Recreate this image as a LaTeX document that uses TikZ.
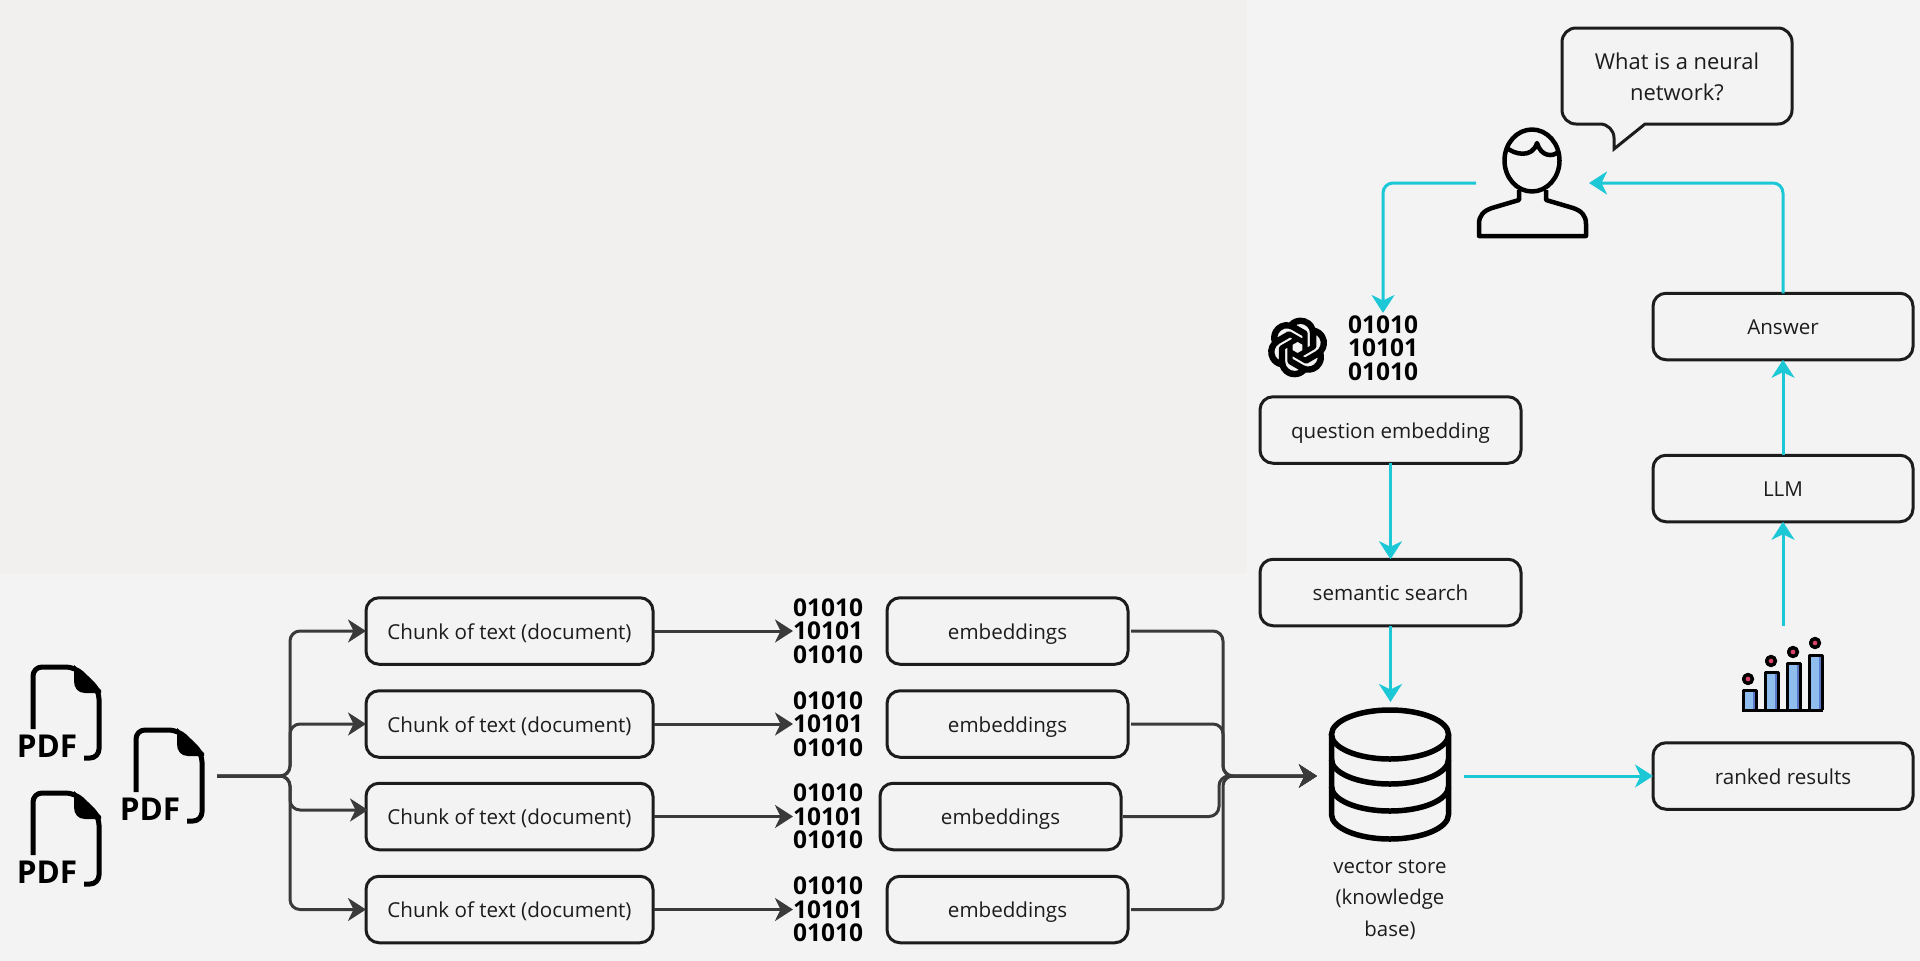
\documentclass[tikz,border=0pt]{standalone}
\usepackage{fontspec}
\setmainfont{Open Sans}
\usetikzlibrary{arrows.meta,calc,svg.path}
\definecolor{pagebg}{HTML}{F3F3F3}
\definecolor{patchbg}{HTML}{F1F0EE}
\definecolor{inkline}{HTML}{1C1C1C}
\definecolor{ink}{HTML}{1C1C1C}
\definecolor{darkarrow}{HTML}{3A3A3A}
\definecolor{cyanarrow}{HTML}{1CC8D6}
\definecolor{barlight}{HTML}{8FBDEE}
\definecolor{bardark}{HTML}{5A78C8}
\definecolor{dotpink}{HTML}{D9456A}
\tikzset{
  box/.style={draw=inkline,line width=3pt,rounded corners=13pt,inner sep=0pt,outer sep=0pt,
    text=ink,font=\fontsize{20.6}{30}\selectfont,minimum height=66.5pt,text height=16pt,text depth=0pt},
  chunkbox/.style={box,minimum width=287pt},
  embbox/.style={box,minimum width=241pt},
  sidebox/.style={box,minimum width=260pt},
  binary/.style={inner sep=0pt,outer sep=0pt,minimum width=70pt,minimum height=70pt,text=black,align=center,
    font=\fontsize{24.5}{23.5}\selectfont\bfseries},
  ghost/.style={inner sep=0pt,outer sep=0pt},
  darrow/.style={draw=darkarrow,line width=3pt,rounded corners=10pt,
    -{Stealth[length=18pt,width=23pt,inset=5.5pt]}},
  carrow/.style={draw=cyanarrow,line width=3pt,rounded corners=10pt,
    -{Stealth[length=18pt,width=23pt,inset=5.5pt]}},
  icon/.style={draw=black,line width=5pt},
  pdfdoc/.pic={
    \draw[icon,rounded corners=9pt,line join=round] (0,62) -- (0,0) -- (42,0) -- (66,23) -- (66,91) -- (51,91);
    \fill[black] (41,-2) -- (68,23) -- (68,26) -- (52,26) .. controls (45,26) and (41,21) .. (41,14) -- cycle;
    \node[ghost,text=black,font=\fontsize{31.5}{32}\selectfont\bfseries] (-label) at (14,79.5) {PDF};
  }
}
\begin{document}
\begin{tikzpicture}[x=1pt,y=-1pt]
\useasboundingbox (0,0) rectangle (1920,961);
\fill[pagebg] (0,0) rectangle (1920,961);
\fill[patchbg] (0,0) rectangle (1247,573);

% PDF documents
\pic (pdfa) at (33,667) {pdfdoc};
\pic (pdfb) at (33,793) {pdfdoc};
\pic (pdfc) at (136,730) {pdfdoc};
\coordinate (src) at (217,776);
\coordinate (trunk) at (290,776);

% rows
\foreach \n/\y in {1/631,2/724,3/816.5,4/909.5}{
  \node[chunkbox] (c\n) at (509.5,\y) {Chunk of text (document)};
  \node[binary] (b\n) at (828,\y) {01010\\10101\\01010};
}
\node[embbox] (e1) at (1007.5,631) {embeddings};
\node[embbox] (e2) at (1007.5,724) {embeddings};
\node[embbox] (e3) at (1000.5,816.5) {embeddings};
\node[embbox] (e4) at (1007.5,909.5) {embeddings};

\coordinate (c3in) at (368,810);
\draw[darrow] (src) -- (trunk) |- (c1.west);
\draw[darrow] (src) -- (trunk) |- (c2.west);
\draw[darrow] (src) -- (trunk) |- (c3in);
\draw[darrow] (src) -- (trunk) |- (c4.west);
\foreach \n in {1,2,3,4}{
  \draw[darrow,shorten <=1pt] (c\n.east) -- (b\n.west);
}

% vector store
\node[ghost,minimum width=147pt,minimum height=148pt] (db) at (1390.5,776) {};
\begin{scope}[line width=5.5pt,draw=black]
  \draw (1390,734.5) ellipse [x radius=58.5pt,y radius=24.5pt];
  \draw (1331.5,734.5) -- (1331.5,814.5) arc [start angle=180,end angle=360,x radius=58.5pt,y radius=24.5pt] -- (1448.5,734.5);
  \draw (1331.5,759.5) arc [start angle=180,end angle=360,x radius=58.5pt,y radius=24.5pt];
  \draw (1331.5,786.5) arc [start angle=180,end angle=360,x radius=58.5pt,y radius=24.5pt];
\end{scope}
\node[ghost,text=ink,align=center,font=\fontsize{20.4}{31.5}\selectfont] (dblabel) at (1390,899.5) {vector store\\(knowledge\\base)};

\coordinate (join) at (1223,776);
\coordinate (joinb) at (1219,776);
\draw[darrow,shorten <=3pt] (e1.east) -| (join) -- (db.west);
\draw[darrow,shorten <=3pt] (e2.east) -| (join) -- (db.west);
\draw[darrow,shorten <=2pt] (e3.east) -| (joinb) -- (db.west);
\draw[darrow,shorten <=3pt] (e4.east) -| (join) -- (db.west);

% query column
\node[box,minimum width=261pt] (qe) at (1390.5,430) {question embedding};
\node[box,minimum width=261pt] (ss) at (1390.5,592.5) {semantic search};
\node[binary] (bq) at (1383,348) {01010\\10101\\01010};

% knot logo
\begin{scope}[shift={(1269,376)},xscale=2.38,yscale=2.38]
  \filldraw[fill=black,draw=black,line width=2.6pt,line join=round,even odd rule] svg "M 22.2819 9.8211 a 5.9847 5.9847 0 0 0 -0.5157 -4.9108 a 6.0462 6.0462 0 0 0 -6.5098 -2.9 A 6.0651 6.0651 0 0 0 4.9807 4.1818 a 5.9847 5.9847 0 0 0 -3.9977 2.9 a 6.0462 6.0462 0 0 0 0.7427 7.0966 a 5.98 5.98 0 0 0 0.511 4.9107 a 6.051 6.051 0 0 0 6.5146 2.9001 A 5.9847 5.9847 0 0 0 13.2599 24 a 6.0557 6.0557 0 0 0 5.7718 -4.2058 a 5.9894 5.9894 0 0 0 3.9977 -2.9001 a 6.0557 6.0557 0 0 0 -0.7475 -7.0729 z
  M 13.2599 22.4292 a 4.4755 4.4755 0 0 1 -2.8764 -1.0408 l 0.1419 -0.0804 l 4.7783 -2.7582 l 0.3927 -0.6813 v -6.7369 l 2.02 1.1686 l 0.038 0.052 v 5.5826 a 4.504 4.504 0 0 1 -4.4945 4.4944 z
  M 3.5992 18.3038 a 4.4708 4.4708 0 0 1 -0.5346 -3.0137 l 0.142 0.0852 l 4.783 2.7582 l 0.7806 0 l 5.8428 -3.3685 v 2.3324 l -0.0332 0.0615 L 9.74 19.9502 a 4.4992 4.4992 0 0 1 -6.1408 -1.6464 z
  M 2.3408 7.8956 a 4.485 4.485 0 0 1 2.3655 -1.9728 V 11.6 l 0.3879 0.6765 l 5.8144 3.3543 l -2.0201 1.1685 l -0.071 0 l -4.8303 -2.7865 A 4.504 4.504 0 0 1 2.3408 7.872 z
  M 18.9371 11.7514 L 13.1038 8.364 L 15.1192 7.2 l 0.071 0 l 4.8303 2.7913 a 4.4944 4.4944 0 0 1 -0.6765 8.1042 v -5.6772 l -0.407 -0.667 z
  M 20.9478 8.7283 l -0.142 -0.0852 l -4.7735 -2.7818 l -0.7854 0 L 9.409 9.2297 V 6.8974 l 0.0284 -0.0615 l 4.8303 -2.7866 a 4.4992 4.4992 0 0 1 6.6802 4.66 z
  M 8.3065 12.863 l -2.02 -1.1638 l -0.038 -0.0567 V 6.0742 a 4.4992 4.4992 0 0 1 7.3757 -3.4537 l -0.142 0.0805 L 8.704 5.459 l -0.3927 0.6813 z
  M 9.4041 10.4976 l 2.602 -1.4998 l 2.6069 1.4998 v 2.9994 l -2.5974 1.4997 l -2.6067 -1.4997 z";
\end{scope}

% user
\node[ghost,minimum width=113pt,minimum height=110pt] (person) at (1532.5,183) {};
\begin{scope}[line width=4.5pt,draw=black,line join=round]
  \draw (1532,160.5) ellipse [x radius=27.5pt,y radius=31pt];
  \draw (1507,148) .. controls (1514,154) and (1532,159) .. (1537,143) .. controls (1541,157) and (1553,157) .. (1558,152);
  \draw (1519,190) -- (1519,200) -- (1492,208) .. controls (1483,211) and (1479,216) .. (1479,224) -- (1479,236) -- (1586,236) -- (1586,224) .. controls (1586,216) and (1582,211) .. (1573,208) -- (1546,200) -- (1546,190);
\end{scope}

% speech bubble
\draw[draw=inkline,line width=3pt,line join=miter]
  [rounded corners=14pt] (1645,124) -- (1792,124) -- (1792,28) -- (1562,28) -- (1562,124) -- (1614,124)
  [rounded corners=0pt] -- (1614,149) -- cycle;
\node[ghost,text=ink,align=center,font=\fontsize{21.9}{31}\selectfont] (bubble) at (1677,76.5) {What is a neural\\network?};

% right column
\node[sidebox] (ans) at (1783,326.5) {Answer};
\node[sidebox] (llm) at (1783,488.5) {LLM};
\node[sidebox] (rank) at (1783,776) {ranked results};

% chart
\node[ghost,minimum width=90pt,minimum height=88pt] (chart) at (1783,670) {};
\begin{scope}[line width=3pt,line join=round]
  \foreach \xa/\xb/\t in {1743/1756/690,1765/1778/672,1787/1800/663,1809/1822/655}{
    \fill[barlight] (\xa,\t) rectangle (\xb,710);
    \fill[bardark] (\xb-3,\t) rectangle (\xb,710);
    \draw[black] (\xa,710) -- (\xa,\t) -- (\xb,\t) -- (\xb,710);
  }
  \draw[black] (1742,710) -- (1823,710);
  \foreach \x/\y in {1748/679,1771/661,1793/652,1815/643}{
    \fill[dotpink,draw=black,line width=3.5pt] (\x,\y) circle (4.4pt);
  }
\end{scope}

% cyan connectors
\draw[carrow] (person.west) -| (bq.north);
\draw[carrow] (ans.north) |- (person.east);
\draw[carrow] (qe.south) -- (ss.north);
\draw[carrow] (ss.south) -- (db.north);
\draw[carrow] (db.east) -- (rank.west);
\draw[carrow] (chart.north) -- (llm.south);
\draw[carrow] (llm.north) -- (ans.south);
\end{tikzpicture}
\end{document}
